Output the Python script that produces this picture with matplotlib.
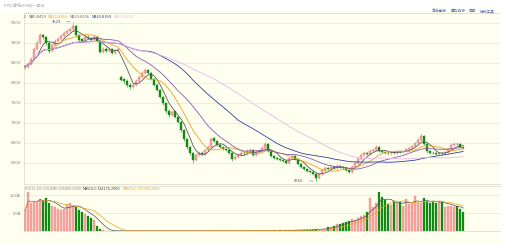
import numpy as np
import pandas as pd
import matplotlib
matplotlib.use("Agg")
import matplotlib.pyplot as plt
from matplotlib.patches import Rectangle

plt.rcParams['font.family'] = ['DejaVu Sans', 'Noto Sans CJK SC']

# daily candles, left to right
opens = [8380, 8400, 8470, 8600, 8860, 9000, 9200, 9150, 9000, 8800,
         8950, 9060, 9100, 9180, 9260, 9300, 9340, 9420, 9200, 9100,
         9050, 9160, 9120, 9070, 9160, 9050, 8780, 8860, 8800, 8860,
         8760, 8810, 8150, 8100, 8060, 7960, 7900, 7950, 8050, 8150,
         8250, 8330, 8250, 8100, 7960, 7820, 7650, 7500, 7300, 7200,
         7290, 7150, 7020, 6830, 6600, 6400, 6250, 6080, 6200, 6260,
         6230, 6320, 6400, 6620, 6550, 6460, 6400, 6340, 6320, 6250,
         6100, 6150, 6200, 6260, 6240, 6300, 6330, 6200, 6280, 6300,
         6380, 6480, 6300, 6180, 6130, 6100, 6080, 6050, 6000, 6120,
         6180, 6100, 5980, 5900, 5860, 5800, 5780, 5720, 5620, 5720,
         5820, 5880, 5860, 5900, 5880, 5930, 5900, 5870, 5820, 5780,
         5900, 6000, 6100, 6200, 6250, 6220, 6300, 6330, 6400, 6300,
         6270, 6260, 6240, 6280, 6260, 6290, 6270, 6300, 6350, 6380,
         6430, 6500, 6580, 6680, 6480, 6300, 6260, 6250, 6230, 6250,
         6240, 6280, 6350, 6450, 6480, 6470, 6400]
closes = [8420, 8480, 8600, 8850, 9000, 9200, 9150, 9000, 8800, 8950,
          9050, 9100, 9180, 9250, 9300, 9350, 9420, 9200, 9080, 9050,
          9150, 9120, 9080, 9150, 9050, 8780, 8850, 8800, 8850, 8760,
          8820, 8850, 8080, 8050, 7950, 7900, 7950, 8050, 8150, 8250,
          8320, 8250, 8100, 7950, 7820, 7650, 7500, 7300, 7200, 7280,
          7150, 7020, 6820, 6600, 6400, 6250, 6080, 6200, 6250, 6230,
          6320, 6400, 6600, 6550, 6450, 6400, 6350, 6320, 6250, 6100,
          6150, 6200, 6260, 6240, 6300, 6330, 6200, 6280, 6300, 6380,
          6480, 6300, 6180, 6120, 6100, 6080, 6050, 6000, 6120, 6180,
          6100, 5980, 5900, 5850, 5800, 5780, 5720, 5620, 5720, 5820,
          5880, 5860, 5900, 5880, 5930, 5900, 5870, 5820, 5780, 5900,
          6000, 6100, 6200, 6250, 6220, 6300, 6330, 6400, 6300, 6270,
          6260, 6240, 6280, 6260, 6290, 6270, 6300, 6350, 6380, 6430,
          6500, 6580, 6680, 6480, 6300, 6260, 6250, 6230, 6250, 6240,
          6280, 6350, 6450, 6480, 6470, 6400, 6380]
highs = [8460, 8520, 8650, 8900, 9080, 9260, 9230, 9180, 9020, 9000,
         9100, 9150, 9220, 9290, 9340, 9400, 9529, 9440, 9230, 9130,
         9190, 9190, 9150, 9190, 9180, 9070, 8890, 8890, 8880, 8880,
         8860, 8880, 8200, 8130, 8090, 7990, 7990, 8090, 8190, 8300,
         8380, 8360, 8270, 8130, 7990, 7850, 7680, 7530, 7340, 7320,
         7310, 7180, 7050, 6860, 6630, 6430, 6280, 6260, 6300, 6290,
         6360, 6450, 6660, 6650, 6580, 6490, 6430, 6370, 6340, 6270,
         6190, 6240, 6300, 6290, 6340, 6370, 6350, 6320, 6340, 6420,
         6530, 6500, 6330, 6210, 6150, 6130, 6100, 6080, 6160, 6220,
         6200, 6120, 6000, 5930, 5880, 5830, 5800, 5740, 5760, 5860,
         5920, 5910, 5940, 5930, 5970, 5950, 5920, 5900, 5840, 5940,
         6040, 6140, 6240, 6300, 6280, 6340, 6370, 6450, 6420, 6330,
         6300, 6290, 6310, 6300, 6320, 6310, 6330, 6380, 6410, 6460,
         6530, 6620, 6740, 6700, 6500, 6320, 6290, 6270, 6280, 6270,
         6310, 6380, 6490, 6520, 6510, 6490, 6430]
lows = [8340, 8370, 8440, 8570, 8830, 8970, 9100, 8960, 8760, 8770,
        8920, 9030, 9070, 9150, 9230, 9270, 9310, 9160, 9050, 9020,
        9020, 9090, 9050, 9040, 9020, 8750, 8750, 8770, 8770, 8730,
        8730, 8780, 8040, 8010, 7910, 7860, 7870, 7920, 8020, 8120,
        8220, 8220, 8070, 7920, 7790, 7620, 7460, 7260, 7160, 7170,
        7120, 6990, 6780, 6560, 6360, 6200, 6010, 6040, 6170, 6200,
        6200, 6290, 6370, 6520, 6420, 6370, 6320, 6290, 6220, 6060,
        6070, 6120, 6170, 6210, 6210, 6270, 6170, 6170, 6250, 6270,
        6350, 6270, 6150, 6090, 6070, 6050, 6020, 5970, 5970, 6090,
        6070, 5950, 5870, 5820, 5770, 5750, 5690, 5550, 5590, 5690,
        5790, 5830, 5830, 5850, 5850, 5870, 5840, 5790, 5750, 5750,
        5870, 5970, 6070, 6170, 6190, 6190, 6270, 6300, 6270, 6240,
        6230, 6210, 6210, 6230, 6230, 6240, 6240, 6270, 6320, 6350,
        6400, 6470, 6550, 6450, 6260, 6220, 6220, 6200, 6200, 6210,
        6210, 6250, 6320, 6420, 6440, 6370, 6350]
# volume in units of 10k (万)
volumes = [70, 130, 95, 100, 98, 105, 100, 110, 95, 85,
           80, 75, 70, 72, 88, 92, 85, 80, 70, 62,
           58, 50, 45, 38, 18, 8, 2, 0.5, 0.3, 0.3,
           0.3, 0.4, 0.3, 0.3, 0.3, 0.3, 0.4, 0.3, 0.3, 0.3,
           0.3, 0.3, 0.4, 0.3, 0.3, 0.3, 0.3, 0.3, 0.4, 0.3,
           0.3, 0.3, 0.3, 0.4, 0.3, 0.3, 0.3, 0.4, 0.3, 0.3,
           0.4, 0.3, 0.5, 0.4, 0.3, 0.4, 0.5, 0.4, 0.5, 0.5,
           0.8, 0.6, 0.9, 0.8, 1.0, 0.8, 1.2, 1.0, 1.0, 1.3,
           1.2, 1.5, 1.5, 1.8, 1.5, 2.0, 1.6, 2.2, 2.0, 2.5,
           3.0, 2.5, 3.5, 3.0, 4.0, 3.5, 5.0, 6.0, 7.0, 8.0,
           7.0, 12, 15, 18, 22, 25, 28, 30, 35, 40,
           38, 45, 50, 55, 65, 110, 80, 95, 130, 112,
           105, 90, 88, 100, 92, 97, 85, 107, 90, 95,
           117, 92, 95, 110, 100, 95, 98, 92, 100, 98,
           80, 85, 83, 80, 82, 75, 63]

price_ticks = [6000, 6500, 7000, 7500, 8000, 8500, 9000, 9500]
vol_ticks = [60, 120]
vol_tick_labels = ["60万", "120万"]

ma_periods = [5, 10, 20, 40, 60]
ma_colors = ["#5a5a5a", "#f0a020", "#8a5ab0", "#3040a0", "#ecb4ec"]
ma_labels = ["MA5:8419", "MA10:8464", "MA20:8206", "MA40:8369", "MA60:8333"]
vol_labels = ["VOL(5,10) VOLUME:605800.0000", "MAVOL1:744176.2000", "MAVOL2:715999.2000"]
vol_label_colors = ["#888888", "#404040", "#f0a020"]
links = ["高低差分", "叠加品种", "周期", "分析工具"]

W, H = 506, 244
BG = "#fffff0"
GRID = "#ecebd8"
RED_FACE = "#f3aaa4"
RED_EDGE = "#e07070"
GREEN = "#118a11"
CJK = ["Noto Sans CJK SC", "DejaVu Sans"]


def fx(x):
    return x / W


def fy(y):
    return 1 - y / H


def text_row(fig, x0, y, labels, colors, size, gap, family=None):
    # put texts one after the other, measuring each one
    r = fig.canvas.get_renderer()
    xp = x0
    for lab, col in zip(labels, colors):
        kw = {"family": family} if family else {}
        t = fig.text(fx(xp), fy(y), lab, fontsize=size, color=col, va="center", **kw)
        xp += t.get_window_extent(renderer=r).width + gap


fig = plt.figure(figsize=(W / 100, H / 100), dpi=100)
fig.patch.set_facecolor("white")
fig.add_artist(Rectangle((0, 0), fx(500), fy(11), transform=fig.transFigure,
                         facecolor=BG, edgecolor="none", zorder=0))

ax = fig.add_axes([fx(24), fy(184), fx(500 - 24), (184 - 13) / H])
axv = fig.add_axes([fx(24), fy(231), fx(500 - 24), (231 - 186) / H])

n = len(closes)
x = np.arange(n)
o = np.array(opens)
c = np.array(closes)
up = c >= o
body_lo = np.minimum(o, c)
body_h = np.maximum(np.abs(c - o), 8)

for a in (ax, axv):
    a.set_facecolor(BG)
    a.set_xlim(-0.4, 158.3)
    a.spines["right"].set_visible(False)
    for s in ("left", "top", "bottom"):
        a.spines[s].set_color("#d8d8c8")
        a.spines[s].set_linewidth(0.5)
    a.set_xticks([])
    a.tick_params(axis="y", length=0, pad=2, labelsize=3, labelcolor="#888888")

# price panel
ax.set_ylim(5475, 9750)
ax.set_yticks(price_ticks)
ax.set_yticklabels([str(t) for t in price_ticks])
for t in price_ticks:
    ax.axhline(t, color=GRID, lw=0.6, zorder=1)

ax.vlines(x[up], np.array(lows)[up], np.array(highs)[up], color=RED_EDGE, lw=0.4, zorder=3)
ax.vlines(x[~up], np.array(lows)[~up], np.array(highs)[~up], color=GREEN, lw=0.4, zorder=3)
ax.bar(x[up], body_h[up], bottom=body_lo[up], width=0.65, color=RED_FACE,
       edgecolor=RED_EDGE, linewidth=0.3, zorder=4)
ax.bar(x[~up], body_h[~up], bottom=body_lo[~up], width=0.65, color=GREEN,
       edgecolor=GREEN, linewidth=0.3, zorder=4)

close_s = pd.Series(closes)
for p, col in zip(ma_periods, ma_colors):
    ax.plot(x, close_s.rolling(p, min_periods=1).mean(), color=col, lw=0.6, zorder=5)

hi_i = int(np.argmax(highs))
lo_i = int(np.argmin(lows))
ax.annotate(str(max(highs)), xy=(hi_i, max(highs)), xytext=(-9, 0), textcoords="offset points",
            fontsize=2.6, color="#555555", ha="right", va="center",
            arrowprops=dict(arrowstyle="-", color="#777777", lw=0.4))
ax.annotate(str(min(lows)), xy=(lo_i, min(lows)), xytext=(-9, 0), textcoords="offset points",
            fontsize=2.6, color="#555555", ha="right", va="center",
            arrowprops=dict(arrowstyle="-", color="#777777", lw=0.4))

# volume panel
axv.set_ylim(0, 150)
axv.set_yticks(vol_ticks)
axv.set_yticklabels(vol_tick_labels, family=CJK)
for t in vol_ticks:
    axv.axhline(t, color=GRID, lw=0.6, zorder=1)
v = np.array(volumes)
axv.bar(x[up], v[up], width=0.65, color=RED_FACE, edgecolor=RED_EDGE, linewidth=0.2, zorder=3)
axv.bar(x[~up], v[~up], width=0.65, color=GREEN, edgecolor=GREEN, linewidth=0.2, zorder=3)
vol_s = pd.Series(volumes)
axv.plot(x, vol_s.rolling(5, min_periods=1).mean(), color="#505050", lw=0.5, zorder=4)
axv.plot(x, vol_s.rolling(10, min_periods=1).mean(), color="#f0a020", lw=0.5, zorder=4)

# texts
fig.text(fx(4), fy(6), "PPD/废纸(5040) > 日线", fontsize=2.8, color="#999999", va="center",
         family=CJK)
text_row(fig, 24, 17, ["X"] + ma_labels, ["#777777"] + ma_colors, 2.5, 2)
text_row(fig, 432, 11, links, ["#4a6fa8"] * 4, 2.7, 3.5, family=CJK)
text_row(fig, 25, 189, vol_labels, vol_label_colors, 2.4, 2)

fig.savefig("out.png", dpi=100, facecolor=fig.get_facecolor())
